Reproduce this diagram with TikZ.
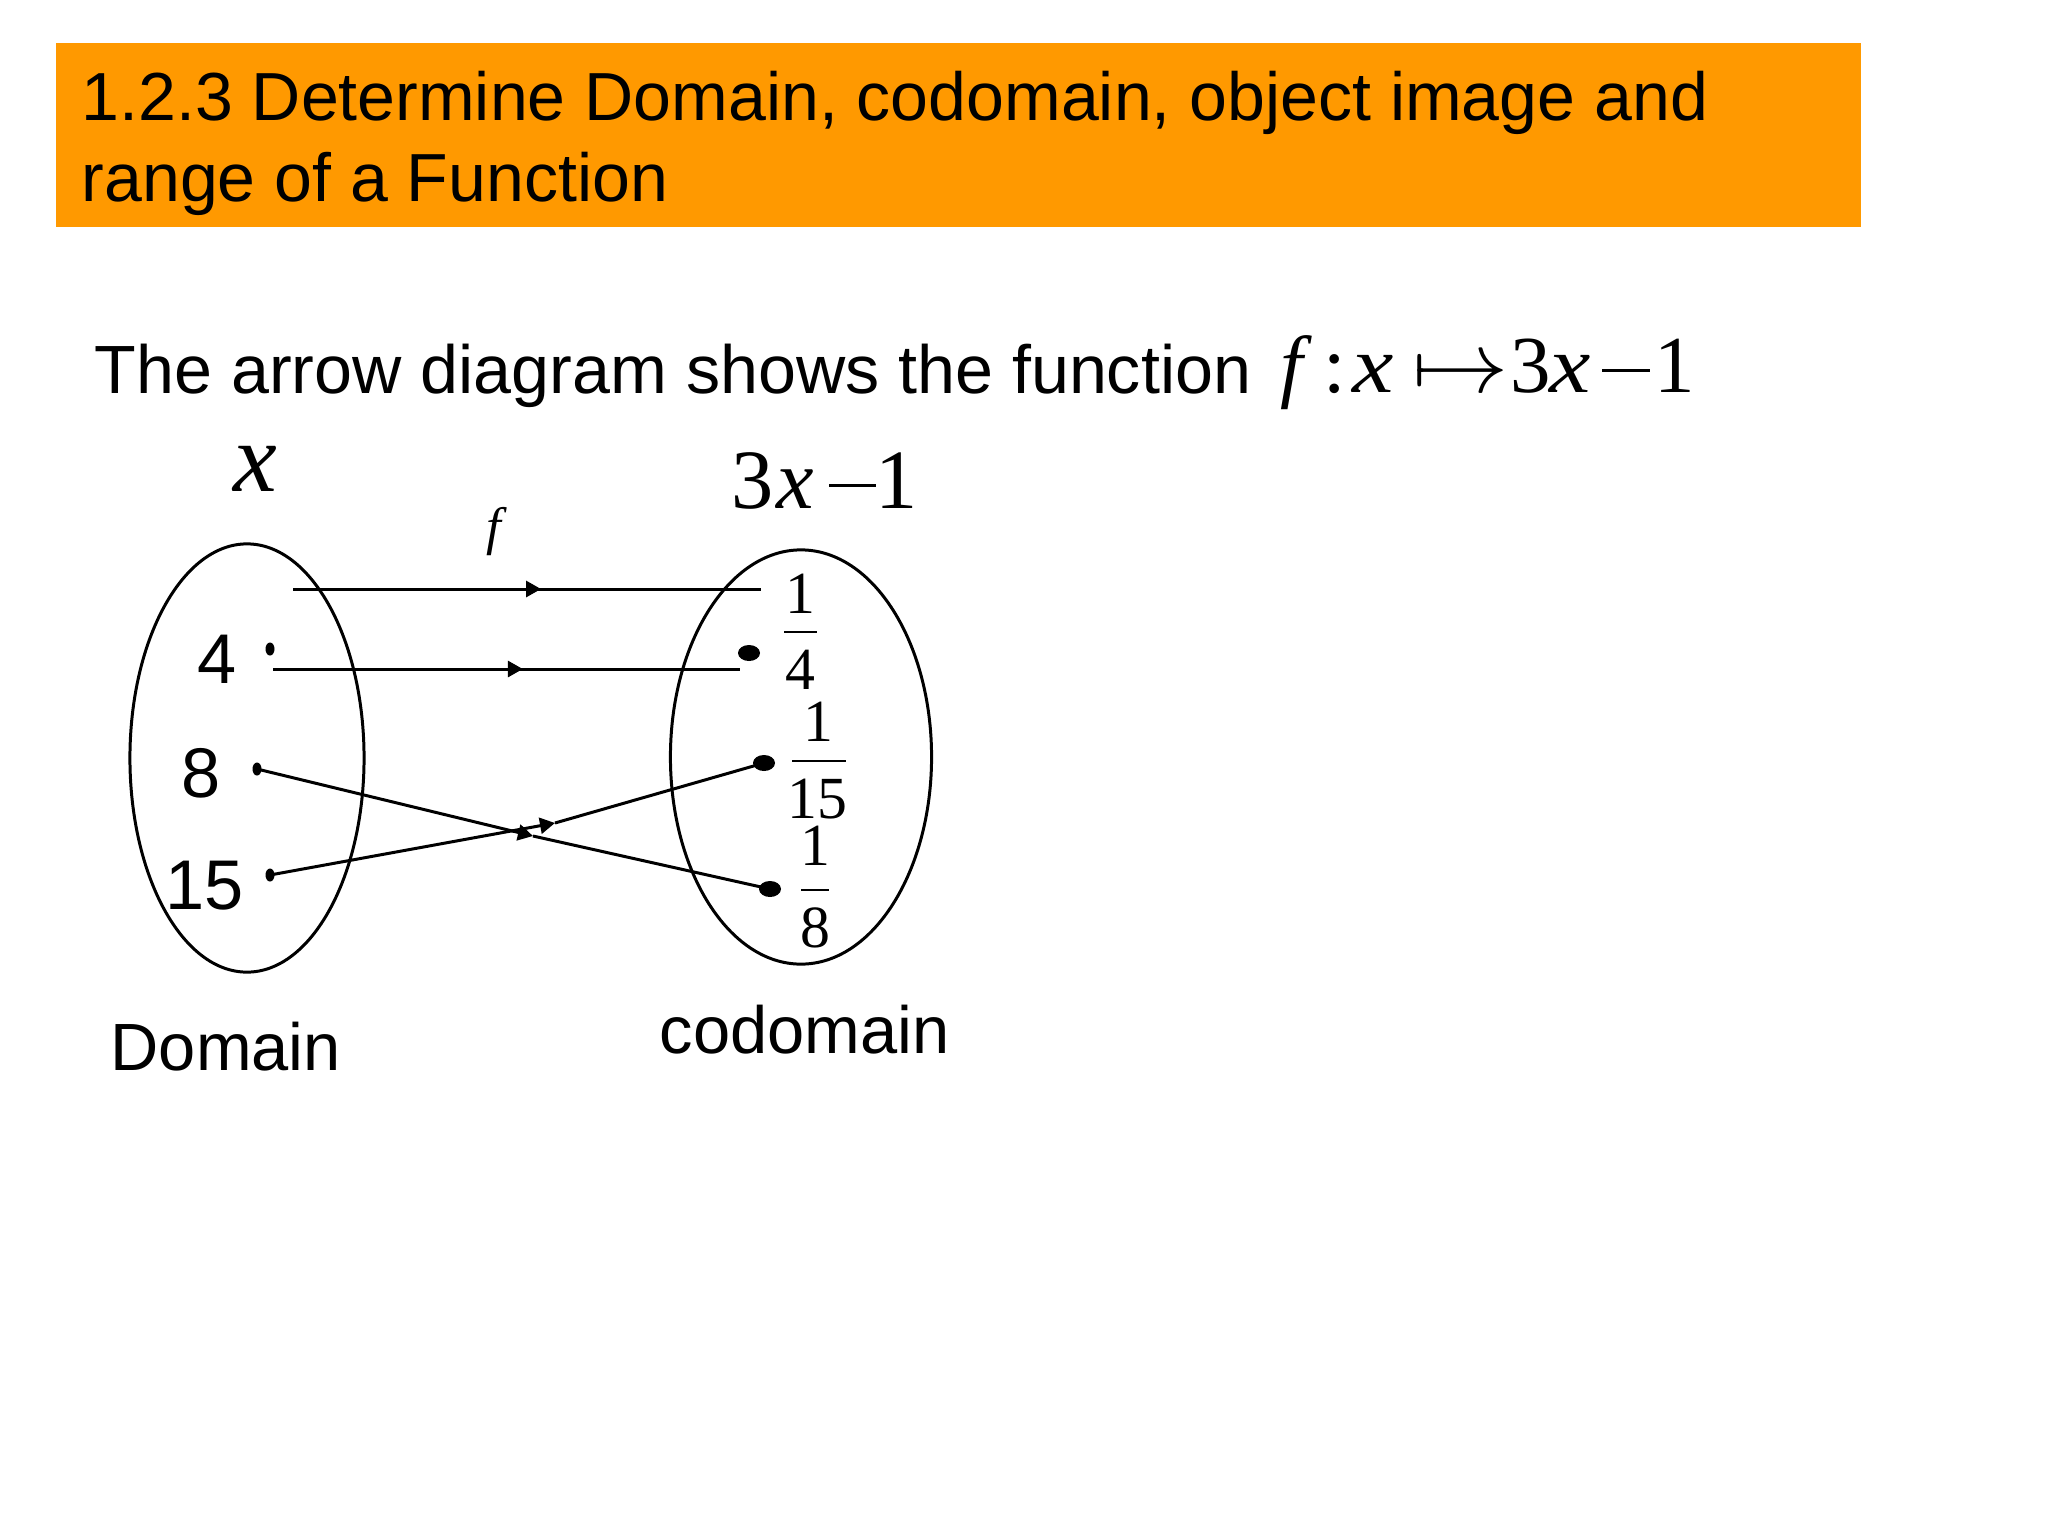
\documentclass[tikz,border=0pt]{standalone}
\usepackage{fontspec}
\setmainfont{Liberation Sans}
\newfontfamily\tms{Liberation Serif}
\usetikzlibrary{shapes.geometric,arrows.meta,decorations.markings}
\definecolor{banner}{RGB}{255,153,0}
\newcommand\mminus[2]{\rule[#1]{#2}{0.85pt}}
\begin{document}
\begin{tikzpicture}[x=0.01cm,y=-0.01cm,
  ln/.style={line width=0.85pt},
  tipstyle/.style={-{Triangle[length=0.15cm,width=0.16cm]}},
  setring/.style={ellipse, draw, line width=0.85pt, inner sep=0pt},
  ldot/.style={ellipse, fill, inner sep=0pt, minimum width=0.09cm, minimum height=0.13cm},
  rdot/.style={ellipse, fill, inner sep=0pt, minimum width=0.22cm, minimum height=0.16cm},
  midarrow/.style={postaction={decorate}, decoration={markings, mark=at position #1 with {\arrow{Triangle[length=0.15cm,width=0.16cm]}}}},
  lab/.style={inner sep=0pt, anchor=base, font=\fontsize{20}{24}\selectfont},
  num/.style={inner sep=0pt, font=\tms\fontsize{17}{20}\selectfont},
  txt/.style={inner sep=0pt, anchor=base west},
  bar/.style={line width=0.8pt}]
\useasboundingbox (0,0) rectangle (2048,1536);
\fill[white] (0,0) rectangle (2048,1536);
% banner
\fill[banner] (56,43) rectangle (1861,227);
\node[txt, font=\fontsize{19.35}{23}\selectfont] (title1) at (81,120) {1.2.3 Determine Domain, codomain, object image and};
\node[txt, font=\fontsize{19.35}{23}\selectfont] (title2) at (81,201) {range of a Function};
% sentence
\node[txt, font=\fontsize{19.4}{23}\selectfont] (body) at (94,393) {The arrow diagram shows the function};
\node[txt, font=\tms\fontsize{23}{27}\selectfont] (fx) at (1280,392) {\makebox[12.2pt][l]{\textit{f}}\makebox[8.1pt][l]{:}\makebox[17.1pt][l]{\scalebox{1.15}[1]{\textit{x}}}\makebox[27.9pt][l]{\scalebox{1.1}[1]{$\mapsto$}}\makebox[11pt][l]{3}\makebox[15.1pt][l]{\scalebox{1.15}[1]{\textit{x}}}\makebox[14.8pt][l]{\mminus{5.6pt}{13.5pt}}1};
% headings
\node[inner sep=0pt, anchor=base, font=\tms\itshape\fontsize{28}{30}\selectfont] (xlab) at (255,491) {x};
\node[txt, font=\tms\fontsize{24}{28}\selectfont] (img) at (731,508) {\makebox[12.7pt][l]{3}\makebox[15pt][l]{\textit{x}}\makebox[13.2pt][l]{\mminus{6pt}{13.3pt}}1};
\node[inner sep=0pt, font=\tms\itshape\fontsize{15}{18}\selectfont] (flab) at (494,532) {f};
% sets
\node[setring, minimum width=2.34cm, minimum height=4.28cm] (dom) at (247,758) {};
\node[setring, minimum width=2.61cm, minimum height=4.14cm] (cod) at (801,757) {};
% domain elements
\node[lab] (n4) at (217,683) {4};
\node[lab] (n8) at (201,797) {8};
\node[lab] (n15) at (205,909) {15};
\node[ldot] (d4) at (270,649) {};
\node[ldot] (d8) at (257,769) {};
\node[ldot] (d15) at (270,875) {};
% codomain elements
\node[rdot] (e4) at (749,653) {};
\node[rdot] (e15) at (764,763) {};
\node[rdot] (e8) at (770,889) {};
\node[num] (a1) at (800,594) {1};
\node[num] (a2) at (800,669.5) {4};
\draw[bar] (784,632) -- (817,632);
\node[num] (b1) at (818,722) {1};
\node[num] (b2) at (817,799) {15};
\draw[bar] (792,761) -- (846,761);
\node[num] (c1) at (815,846) {1};
\node[num] (c2) at (815,928) {8};
\draw[bar] (801,890) -- (829,890);
% connectors
\coordinate (t0) at (293,589);
\coordinate (t1) at (761,589);
\coordinate (s0) at (273,669);
\coordinate (s1) at (740,669);
\coordinate (m8) at (533,836);
\coordinate (m15) at (555,823);
\draw[ln, midarrow=0.53] (t0) -- (t1);
\draw[ln, midarrow=0.535] (s0) -- (s1);
\draw[ln, tipstyle] (d8.center) -- (m8);
\draw[ln] (m8) -- (e8.center);
\draw[ln, tipstyle] (d15.center) -- (m15);
\draw[ln] (m15) -- (e15.center);
% bottom labels
\node[txt, font=\fontsize{19}{23}\selectfont] (domlab) at (110,1070) {Domain};
\node[txt, font=\fontsize{19}{23}\selectfont] (codlab) at (659,1053) {codomain};
\end{tikzpicture}
\end{document}
